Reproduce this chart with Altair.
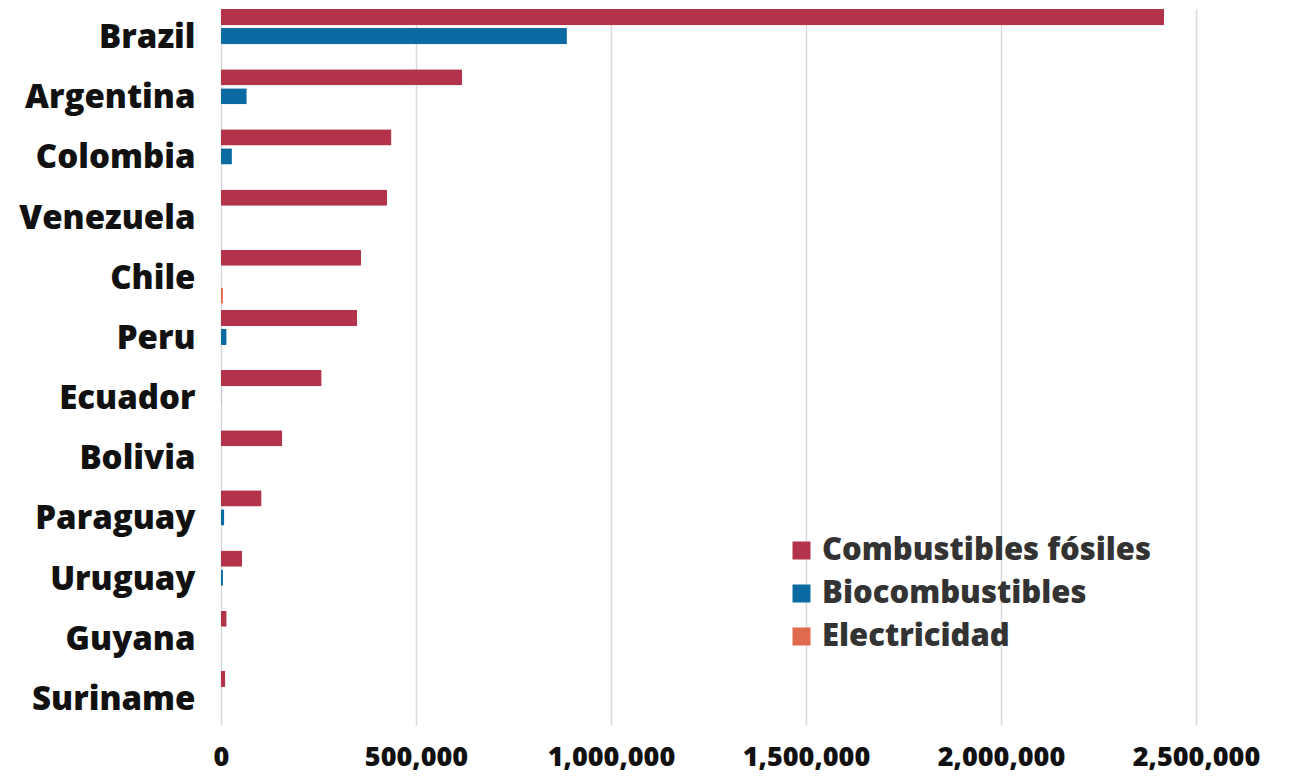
import altair as alt
import pandas as pd

countries = ["Brazil", "Argentina", "Colombia", "Venezuela", "Chile", "Peru",
             "Ecuador", "Bolivia", "Paraguay", "Uruguay", "Guyana", "Suriname"]
series = ["Combustibles fósiles", "Biocombustibles", "Electricidad"]
fosiles = [2418000, 618000, 437000, 426000, 359000, 349000, 258000, 157000, 104000, 54000, 14500, 11000]
bio = [887000, 66000, 28000, 0, 0, 14500, 1000, 0, 8500, 5000, 0, 0]
elec = [0, 0, 0, 0, 5000, 0, 0, 0, 0, 0, 0, 0]
colors = ["#b3344a", "#0c6aa2", "#e06a4e"]
x_ticks = [0, 500000, 1000000, 1500000, 2000000, 2500000]

rows = []
for i, c in enumerate(countries):
    for s, vals in zip(series, [fosiles, bio, elec]):
        rows.append({"country": c, "serie": s, "valor": vals[i]})
df = pd.DataFrame(rows)

FONT = "Open Sans"

chart = alt.Chart(df).mark_bar(cornerRadius=1).encode(
    y=alt.Y("country:N", sort=countries, title=None,
            scale=alt.Scale(paddingInner=0.1, paddingOuter=0),
            axis=alt.Axis(labelFont=FONT, labelFontSize=33, labelFontWeight=800,
                          labelColor="#111111", ticks=False, domain=False,
                          labelPadding=26, labelLimit=400, labelOffset=2)),
    yOffset=alt.YOffset("serie:N", sort=series,
                        scale=alt.Scale(paddingInner=0.15, paddingOuter=0)),
    x=alt.X("valor:Q", title=None,
            scale=alt.Scale(domain=[0, 2500000], nice=False),
            axis=alt.Axis(values=x_ticks,
                          format=",.0f", labelFont=FONT, labelFontSize=27,
                          labelFontWeight=800, labelColor="#111111",
                          ticks=False, domain=False, labelPadding=19,
                          grid=True, gridColor="#d9d9d9", gridWidth=1.5,
                          labelFlush=False)),
    color=alt.Color("serie:N", sort=series,
                    scale=alt.Scale(domain=series, range=colors),
                    legend=alt.Legend(title=None, orient="none",
                                      legendX=565, legendY=526,
                                      symbolType="square", symbolSize=324,
                                      symbolStrokeWidth=0,
                                      labelFont=FONT, labelFontSize=31,
                                      labelFontWeight=800, labelColor="#333333",
                                      rowPadding=11, labelOffset=5,
                                      labelLimit=500)),
).properties(
    width=975, height=716,
    autosize=alt.AutoSizeParams(type="none"),
    padding={"left": 213, "top": 1, "right": 90, "bottom": 52},
).configure_view(stroke=None)

chart.save("out.html", embed_options={"renderer": "svg", "actions": False})
